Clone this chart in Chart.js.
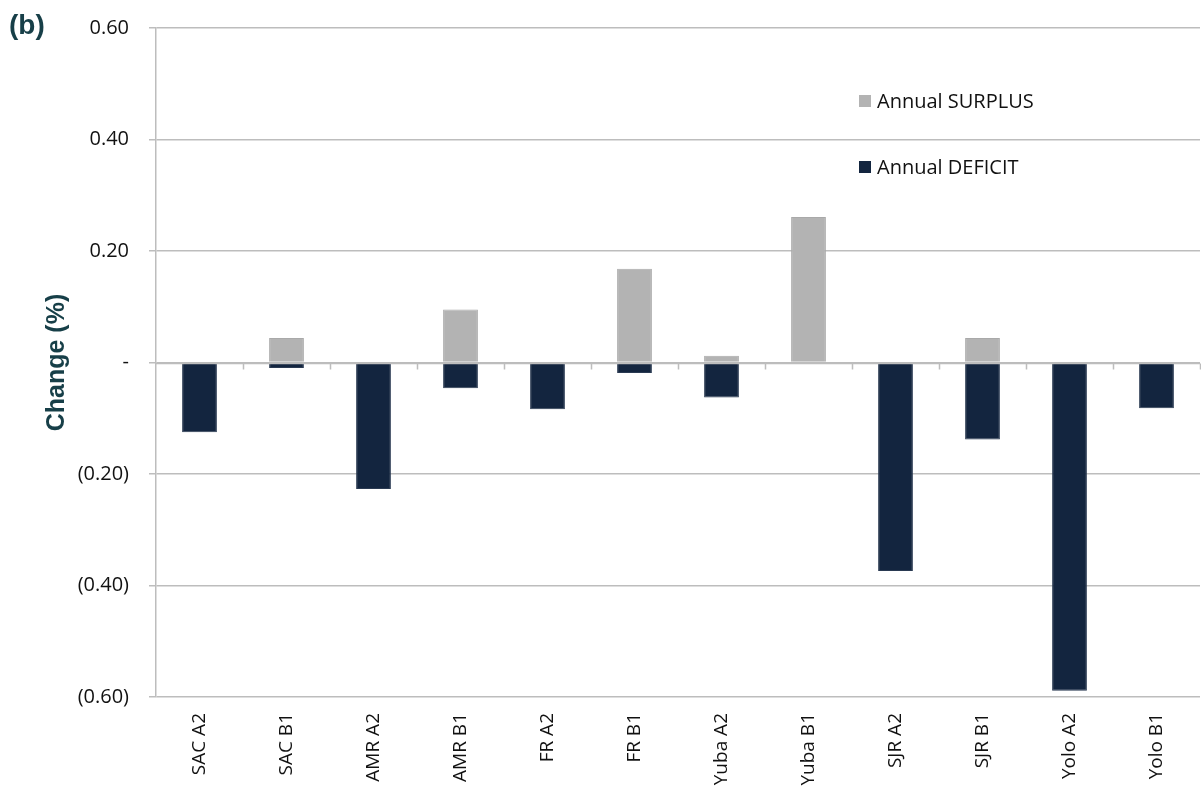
<!DOCTYPE html>
<html lang="en">
<head>
    <meta charset="UTF-8">
    <title>Annual surplus and deficit change</title>
    <script src="https://cdn.jsdelivr.net/npm/chart.js"></script>
    <style>
        html, body { margin: 0; padding: 0; background: #fff; }
        #wrap { width: 1201px; height: 790px; position: relative; }
    </style>
</head>
<body>
    <div id="wrap"><canvas id="changeChart"></canvas></div>
    <script>
        // data
        const categories = ['SAC A2', 'SAC B1', 'AMR A2', 'AMR B1', 'FR A2', 'FR B1',
                            'Yuba A2', 'Yuba B1', 'SJR A2', 'SJR B1', 'Yolo A2', 'Yolo B1'];
        const surplus = [0, 0.044, 0, 0.095, 0, 0.168, 0.012, 0.261, 0, 0.044, 0, 0];
        const deficit = [-0.125, -0.010, -0.227, -0.046, -0.084, -0.019, -0.063, 0, -0.374, -0.138, -0.589, -0.082];
        const yTicks = [-0.6, -0.4, -0.2, 0, 0.2, 0.4, 0.6];

        const gridGray = '#bdbdbd';
        const titleColor = '#173f48';

        function fmt(v) {
            if (Math.abs(v) < 1e-9) return '-';
            const s = Math.abs(v).toFixed(2);
            return v < 0 ? '(' + s + ')' : s;
        }

        // zero-line category axis with boundary ticks, the legend and the panel tag
        const extras = {
            id: 'extras',
            afterDatasetsDraw(chart) {
                const ctx = chart.ctx;
                const x = chart.scales.x, y = chart.scales.y;
                const area = chart.chartArea;
                const y0 = Math.round(y.getPixelForValue(0)) + 0.5;
                ctx.save();
                ctx.strokeStyle = gridGray;
                ctx.lineWidth = 1.5;
                ctx.beginPath();
                ctx.moveTo(area.left, y0);
                ctx.lineTo(area.right, y0);
                for (let i = 1; i <= categories.length; i++) {
                    const px = Math.round(x.getPixelForValue(i - 0.5)) + 0.5;
                    ctx.moveTo(px, y0);
                    ctx.lineTo(px, y0 + 6);
                }
                ctx.stroke();

                // legend
                ctx.font = '20px "Open Sans", sans-serif';
                ctx.textBaseline = 'middle';
                ctx.textAlign = 'left';
                const rows = [{ ds: 0, y: 101 }, { ds: 1, y: 167 }];
                rows.forEach(r => {
                    const d = chart.data.datasets[r.ds];
                    ctx.fillStyle = d.backgroundColor;
                    ctx.fillRect(859, r.y - 6, 12, 12);
                    ctx.fillStyle = '#111';
                    ctx.fillText(d.label, 877, r.y + 1);
                });

                ctx.font = 'bold 28px "Liberation Sans", Arial, sans-serif';
                ctx.fillStyle = titleColor;
                ctx.fillText('(b)', 9, 26);
                ctx.restore();
            }
        };

        new Chart(document.getElementById('changeChart'), {
            type: 'bar',
            data: {
                labels: categories,
                datasets: [
                    { label: 'Annual SURPLUS', data: surplus, backgroundColor: '#b3b3b3',
                      borderColor: '#a9a9a9', borderWidth: 1, barPercentage: 0.4, categoryPercentage: 1 },
                    { label: 'Annual DEFICIT', data: deficit, backgroundColor: '#13253f',
                      borderColor: '#2a3a52', borderWidth: 1, barPercentage: 0.4, categoryPercentage: 1 }
                ]
            },
            options: {
                responsive: true,
                maintainAspectRatio: false,
                animation: false,
                layout: { padding: { left: 42, right: 1, top: 16, bottom: 0 } },
                plugins: { legend: { display: false }, tooltip: { enabled: false } },
                scales: {
                    x: {
                        stacked: true,
                        grid: { display: false },
                        border: { display: false },
                        ticks: {
                            color: '#111', minRotation: 90, maxRotation: 90, padding: 8,
                            font: { family: '"Open Sans", sans-serif', size: 19 }
                        },
                        afterFit(scale) { scale.height = 93; }
                    },
                    y: {
                        stacked: true,
                        min: -0.6,
                        max: 0.6,
                        afterBuildTicks(scale) { scale.ticks = yTicks.map(v => ({ value: v })); },
                        grid: { color: gridGray, lineWidth: 1.5, tickLength: 7 },
                        border: { color: gridGray, width: 1.5 },
                        ticks: {
                            color: '#111', padding: 20,
                            font: { family: '"Open Sans", sans-serif', size: 20, lineHeight: 0.8 },
                            callback: v => fmt(v)
                        },
                        title: {
                            display: true, text: 'Change (%)', color: titleColor, padding: 0,
                            font: { family: '"Liberation Sans", Arial, sans-serif', size: 25, weight: 'bold' }
                        },
                        afterFit(scale) { scale.width = 114; }
                    }
                }
            },
            plugins: [extras]
        });
    </script>
</body>
</html>
